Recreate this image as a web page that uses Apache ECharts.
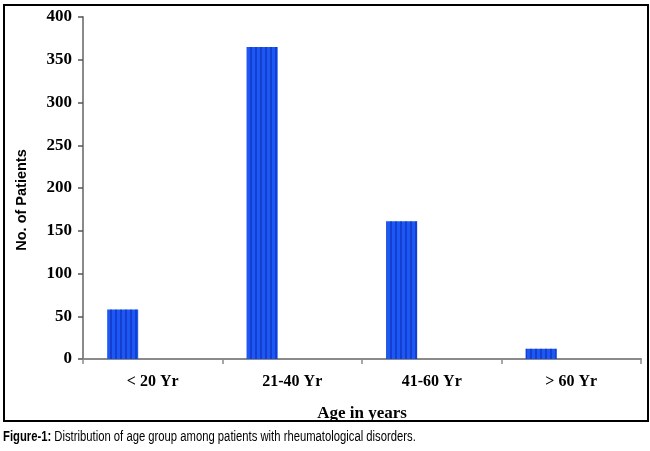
<!DOCTYPE html>
<html>
<head>
<meta charset="utf-8">
<script src="https://cdn.jsdelivr.net/npm/echarts@6/dist/echarts.min.js"></script>
<style>
  html, body { margin: 0; padding: 0; background: #fff; }
  #chart { width: 650px; height: 451px; }
</style>
</head>
<body>
<div id="chart"></div>
<script>
const ageGroups = ["< 20 Yr", "21-40 Yr", "41-60 Yr", "> 60 Yr"];
const patientCounts = [58, 365, 161, 12];
// the original sheet has a second, empty series beside each bar
const emptySeries = [null, null, null, null];
const yTicks = { min: 0, max: 400, interval: 50 };

const serif = "'Liberation Serif', 'Times New Roman', serif";
const sans = "'Liberation Sans', Arial, sans-serif";

const chart = echarts.init(document.getElementById("chart"));

chart.setOption({
  animation: false,
  grid: { left: 83, right: 9, top: 17, bottom: 92 },
  xAxis: {
    type: "category",
    data: ageGroups,
    name: "Age in years",
    nameLocation: "middle",
    nameGap: 46,
    nameTextStyle: { fontFamily: serif, fontWeight: "bold", fontSize: 17, color: "#000" },
    axisLine: { lineStyle: { color: "#8a8a8a", width: 2 } },
    axisTick: { show: true, length: 5, lineStyle: { color: "#8a8a8a", width: 1.5 } },
    axisLabel: { fontFamily: serif, fontWeight: "bold", fontSize: 16, color: "#000", margin: 15 },
  },
  yAxis: {
    type: "value",
    min: yTicks.min,
    max: yTicks.max,
    interval: yTicks.interval,
    name: "No. of Patients",
    nameLocation: "middle",
    nameGap: 54,
    nameRotate: 90,
    nameTextStyle: { fontFamily: sans, fontWeight: "bold", fontSize: 14.5, color: "#000", padding: [0, 24, 0, 0] },
    axisLine: { show: true, lineStyle: { color: "#8a8a8a", width: 2 } },
    axisTick: { show: true, length: 5, lineStyle: { color: "#555", width: 1.5 } },
    axisLabel: { fontFamily: serif, fontWeight: "bold", fontSize: 17, color: "#000", margin: 11 },
    splitLine: { show: false },
  },
  series: [
    {
      type: "bar",
      data: patientCounts,
      barWidth: 31,
      barGap: "94%",
      itemStyle: {
        color: "#1c58f5",
        decal: {
          symbol: "rect",
          symbolSize: 1,
          rotation: 0,
          dashArrayX: [2, 3],
          dashArrayY: [1, 0],
          color: "rgba(10, 30, 150, 0.45)",
        },
      },
    },
    {
      type: "bar",
      data: emptySeries,
      barWidth: 31,
    },
  ],
  graphic: [
    {
      type: "rect",
      shape: { x: 4, y: 5, width: 644, height: 416 },
      style: { fill: null, stroke: "#000", lineWidth: 2 },
      silent: true,
    },
    {
      type: "text",
      x: 3,
      y: 430,
      scaleX: 0.805,
      style: {
        text: "{b|Figure-1:} Distribution of age group among patients with rheumatological disorders.",
        fontFamily: sans,
        fontSize: 14,
        fill: "#000",
        rich: {
          b: { fontFamily: sans, fontSize: 14, fontWeight: "bold", fill: "#000" },
        },
      },
    },
  ],
});
</script>
</body>
</html>
